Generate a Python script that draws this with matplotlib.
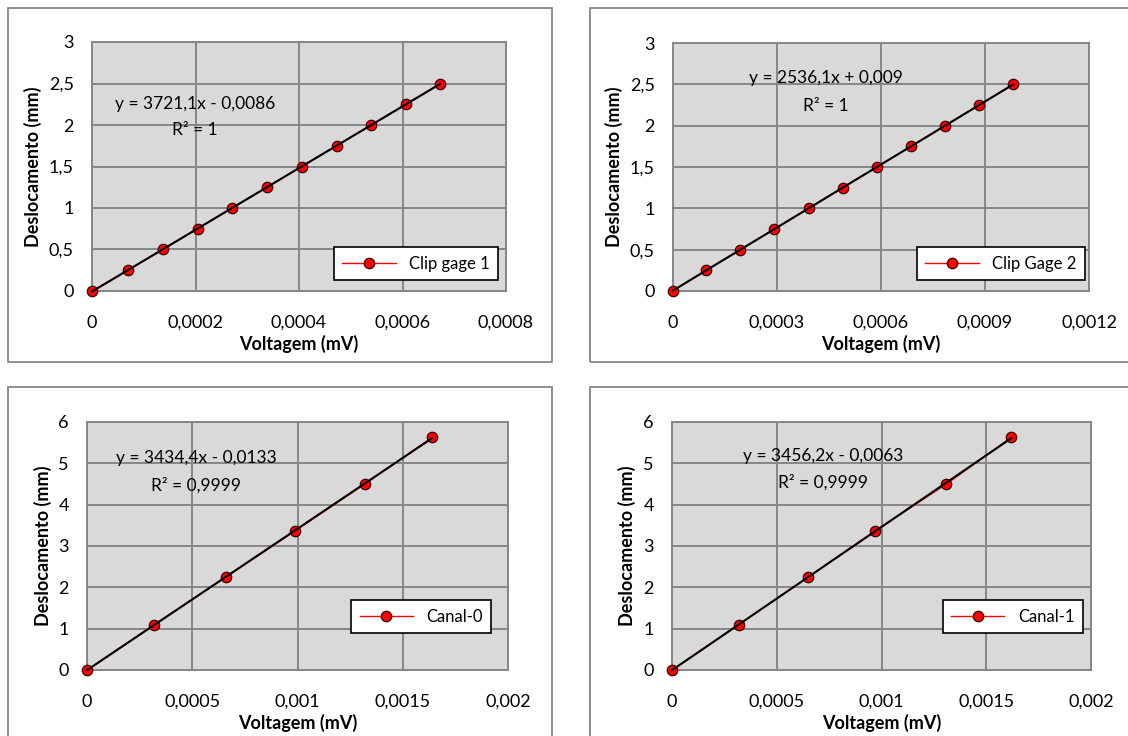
import matplotlib
matplotlib.use("Agg")
import matplotlib.pyplot as plt
from matplotlib.patches import Rectangle
from matplotlib.ticker import MultipleLocator, FuncFormatter
import numpy as np

plt.rcParams['font.family'] = ['Lato', 'DejaVu Sans']

# ---- data ----
cg1_x = [0, 0.0000695, 0.000137, 0.000204, 0.000271, 0.000338, 0.000405, 0.000473, 0.000540, 0.000607, 0.000673]
cg1_y = [0, 0.25, 0.5, 0.75, 1.0, 1.25, 1.5, 1.75, 2.0, 2.25, 2.5]
cg2_x = [0, 0.000095, 0.000194, 0.000292, 0.000391, 0.000489, 0.000588, 0.000687, 0.000785, 0.000884, 0.000982]
cg2_y = [0, 0.25, 0.5, 0.75, 1.0, 1.25, 1.5, 1.75, 2.0, 2.25, 2.5]
c0_x = [0, 0.00032, 0.00066, 0.00099, 0.00132, 0.00164]
c0_y = [0, 1.1, 2.25, 3.37, 4.5, 5.63]
c1_x = [0, 0.00032, 0.00065, 0.00097, 0.00131, 0.00162]
c1_y = [0, 1.1, 2.25, 3.37, 4.5, 5.63]

series_names = ["Clip gage 1", "Clip Gage 2", "Canal-0", "Canal-1"]
equations = ["y = 3721,1x - 0,0086", "y = 2536,1x + 0,009", "y = 3434,4x - 0,0133", "y = 3456,2x - 0,0063"]
r2_texts = ["R² = 1", "R² = 1", "R² = 0,9999", "R² = 0,9999"]
x_max = [0.0008, 0.0012, 0.002, 0.002]
x_step = [0.0002, 0.0003, 0.0005, 0.0005]
y_max = [3, 3, 6, 6]
y_step = [0.5, 0.5, 1, 1]

xs = [cg1_x, cg2_x, c0_x, c1_x]
ys = [cg1_y, cg2_y, c0_y, c1_y]

W, H = 1128, 736
fig = plt.figure(figsize=(W / 100, H / 100), dpi=100)

def fx(px):
    return px / W

def fy(py):
    return 1 - py / H

# panel frames (pixel boxes: x0, y0, x1, y1)
frames = [(8, 8, 552, 362), (590, 8, 1140, 362), (8, 387, 552, 760), (590, 387, 1140, 760)]
for (x0, y0, x1, y1) in frames:
    fig.patches.append(Rectangle((fx(x0), fy(y1)), fx(x1 - x0), (y1 - y0) / H,
                                 transform=fig.transFigure, fill=False,
                                 edgecolor='#868686', lw=1.3, zorder=0))

axes_px = [(92, 42, 506, 291), (673, 43, 1089, 291), (87, 422, 508, 670), (672, 422, 1091, 670)]
eq_pos = [(0.249, 0.75, 0.647), (0.368, 0.86, 0.746), (0.259, 0.855, 0.746), (0.36, 0.863, 0.758)]
leg_anchor = [(0.981, 0.044), (0.99, 0.044), (0.96, 0.149), (0.98, 0.149)]

def fmt(v, pos):
    if abs(v) < 1e-12:
        return "0"
    return f"{v:g}".replace('.', ',')

for i in range(4):
    x0, y0, x1, y1 = axes_px[i]
    ax = fig.add_axes([fx(x0), fy(y1), (x1 - x0) / W, (y1 - y0) / H])
    ax.set_facecolor('#d9d9d9')
    x = np.array(xs[i])
    y = np.array(ys[i])
    ax.plot(x, y, color='red', lw=1.0, marker='o', markersize=7.5,
            markerfacecolor='red', markeredgecolor='#3a0000', markeredgewidth=0.9,
            label=series_names[i], zorder=3, clip_on=False)
    m, b = np.polyfit(x, y, 1)
    xt = np.array([x.min(), x.max()])
    ax.plot(xt, m * xt + b, color='black', lw=1.5, zorder=4, clip_on=False)
    ax.set_xlim(0, x_max[i])
    ax.set_ylim(0, y_max[i])
    ax.xaxis.set_major_locator(MultipleLocator(x_step[i]))
    ax.yaxis.set_major_locator(MultipleLocator(y_step[i]))
    ax.xaxis.set_major_formatter(FuncFormatter(fmt))
    ax.yaxis.set_major_formatter(FuncFormatter(fmt))
    ax.grid(True, color='#868686', lw=1.4)
    ax.set_axisbelow(True)
    for s in ax.spines.values():
        s.set_color('#868686')
        s.set_linewidth(1.4)
    ax.tick_params(axis='x', length=0, pad=17, labelsize=13)
    ax.tick_params(axis='y', length=0, pad=13, labelsize=13)
    ax.set_xlabel("Voltagem (mV)", fontsize=13, fontweight='bold', labelpad=3)
    ax.set_ylabel("Deslocamento (mm)", fontsize=13, fontweight='bold', labelpad=5)
    ex, ey, ry = eq_pos[i]
    ax.text(ex, ey, equations[i], transform=ax.transAxes, ha='center', va='center', fontsize=12.5, zorder=5)
    ax.text(ex, ry, r2_texts[i], transform=ax.transAxes, ha='center', va='center', fontsize=12.5, zorder=5)
    leg = ax.legend(loc='lower right', bbox_to_anchor=leg_anchor[i], fancybox=False,
                    edgecolor='black', framealpha=1, fontsize=12, borderpad=0.5,
                    handlelength=3.2, borderaxespad=0)
    leg.get_frame().set_linewidth(1.2)

fig.savefig("out.png", dpi=100)
